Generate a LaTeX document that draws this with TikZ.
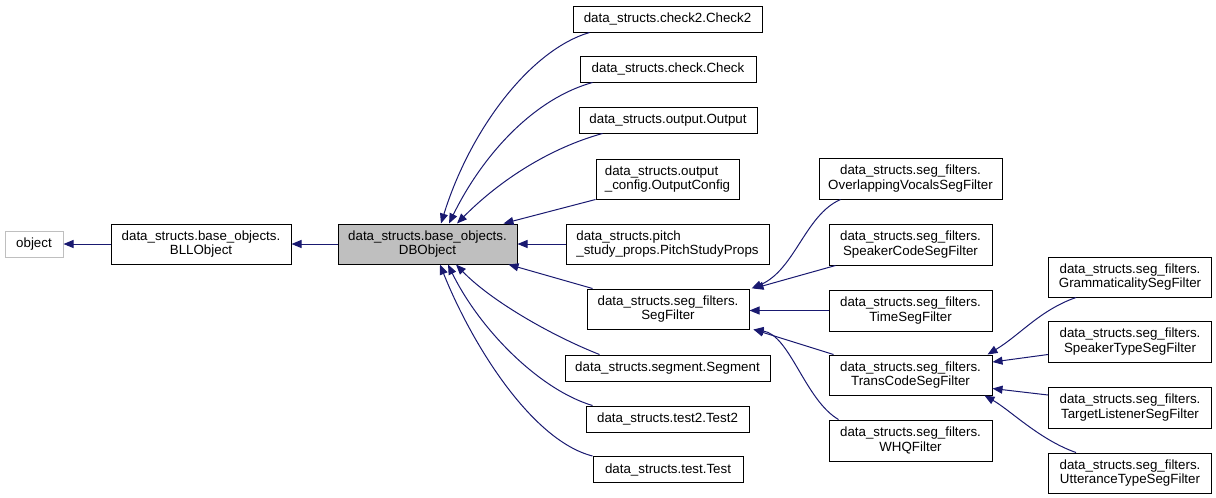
\documentclass[tikz,border=0pt]{standalone}
\usepackage{fontspec}
\setmainfont{Liberation Sans}
\usetikzlibrary{arrows.meta,calc}
\definecolor{edgecol}{HTML}{191970}
\definecolor{boxgray}{HTML}{BFBFBF}
\begin{document}
\begin{tikzpicture}[x=0.75pt,y=-0.75pt,
  box/.style={draw=black, line width=0.75pt, inner sep=0pt, align=center, fill=white,
    font=\fontsize{10}{11}\selectfont},
  sz/.style 2 args={minimum width=#1*0.75pt, minimum height=#2*0.75pt},
  inh/.style={draw=edgecol, line width=0.75pt, -{Triangle[length=7.5pt,width=6pt]}, edgecol}
]
\useasboundingbox (0,0) rectangle (1216,497);
% nodes
\node[box, sz={58}{26}, draw=boxgray] (object) at (34,244) {object};
\node[box, sz={180}{40}] (bll) at (201,244) {data\_structs.base\_objects.\\BLLObject};
\node[box, sz={179}{40}, fill=boxgray] (db) at (427.5,244) {data\_structs.base\_objects.\\DBObject};
\node[box, sz={189}{26}] (check2) at (667.5,19) {data\_structs.check2.Check2};
\node[box, sz={176}{26}] (check) at (668,69) {data\_structs.check.Check};
\node[box, sz={178}{26}] (output) at (668,120) {data\_structs.output.Output};
\node[box, sz={143}{40}, align=left] (outcfg) at (667.5,179) {data\_structs.output\\\_config.OutputConfig};
\node[box, sz={203}{40}, align=left] (pitch) at (667.5,244) {data\_structs.pitch\\\_study\_props.PitchStudyProps};
\node[box, sz={162}{40}] (segf) at (668,309) {data\_structs.seg\_filters.\\SegFilter};
\node[box, sz={205}{26}] (segment) at (667.5,368) {data\_structs.segment.Segment};
\node[box, sz={163}{26}] (test2) at (667.5,419) {data\_structs.test2.Test2};
\node[box, sz={150}{26}] (test) at (668,469.5) {data\_structs.test.Test};
\node[box, sz={183}{41}] (overlap) at (910.5,178.5) {data\_structs.seg\_filters.\\OverlappingVocalsSegFilter};
\node[box, sz={163}{41}] (spcode) at (910.5,244.5) {data\_structs.seg\_filters.\\SpeakerCodeSegFilter};
\node[box, sz={163}{41}] (timeseg) at (910.5,310.5) {data\_structs.seg\_filters.\\TimeSegFilter};
\node[box, sz={163}{40}] (trans) at (910.5,375) {data\_structs.seg\_filters.\\TransCodeSegFilter};
\node[box, sz={163}{41}] (whq) at (910.5,440.5) {data\_structs.seg\_filters.\\WHQFilter};
\node[box, sz={163}{40}] (gram) at (1130,277) {data\_structs.seg\_filters.\\GrammaticalitySegFilter};
\node[box, sz={163}{41}] (sptype) at (1130,341.5) {data\_structs.seg\_filters.\\SpeakerTypeSegFilter};
\node[box, sz={163}{41}] (target) at (1130,407.5) {data\_structs.seg\_filters.\\TargetListenerSegFilter};
\node[box, sz={163}{40}] (utter) at (1130,473) {data\_structs.seg\_filters.\\UtteranceTypeSegFilter};
% edges
\draw[inh] (bll.west) -- (object.east);
\draw[inh] (db.west) -- (bll.east);
\draw[inh] ($(check2.south west)+(17,0)$) .. controls (530,50) and (470,130) .. ($(db.north)+(13.5,0)$);
\draw[inh] ($(check.south west)+(13,0)$) .. controls (530,100) and (480,160) .. ($(db.north)+(21.5,0)$);
\draw[inh] ($(output.south west)+(24,0)$) .. controls (550,148) and (500,180) .. ($(db.north)+(29.5,0)$);
\draw[inh] (outcfg.south west) -- ($(db.north east)+(-14,0)$);
\draw[inh] (pitch.west) -- (db.east);
\draw[inh] ($(segf.north west)+(6,0)$) -- ($(db.south east)+(-9,0)$);
\draw[inh] ($(segment.north west)+(35,0)$) .. controls (550,335) and (490,300) .. ($(db.south)+(28.5,0)$);
\draw[inh] ($(test2.north west)+(7,0)$) .. controls (540,390) and (480,330) .. ($(db.south)+(20.5,0)$);
\draw[inh] (test.north west) .. controls (530,440) and (470,340) .. ($(db.south)+(12.5,0)$);
\draw[inh] ($(overlap.south west)+(22,0)$) .. controls (805,215) and (795,270) .. ($(segf.north east)+(2,0)$);
\draw[inh] ($(spcode.south west)+(7,0)$) -- ($(segf.north east)+(4,0)$);
\draw[inh] (timeseg.west) -- (segf.east |- timeseg.west);
\draw[inh] ($(trans.north west)+(5,0)$) -- ($(segf.south east)+(4,0)$);
\draw[inh] ($(whq.north west)+(10,0)$) .. controls (805,400) and (790,335) .. ($(segf.south east)+(4,0)$);
\draw[inh] ($(gram.south west)+(28,0)$) .. controls (1040,310) and (1020,335) .. ($(trans.north east)+(-5,0)$);
\draw[inh] ($(sptype.south west)+(0,-8)$) -- ($(trans.east)+(0,-13)$);
\draw[inh] ($(target.west)+(0,-12.5)$) -- ($(trans.south east)+(0,-7)$);
\draw[inh] ($(utter.north west)+(28,0)$) .. controls (1040,440) and (1010,410) .. ($(trans.south east)+(-8,0)$);
\end{tikzpicture}
\end{document}
